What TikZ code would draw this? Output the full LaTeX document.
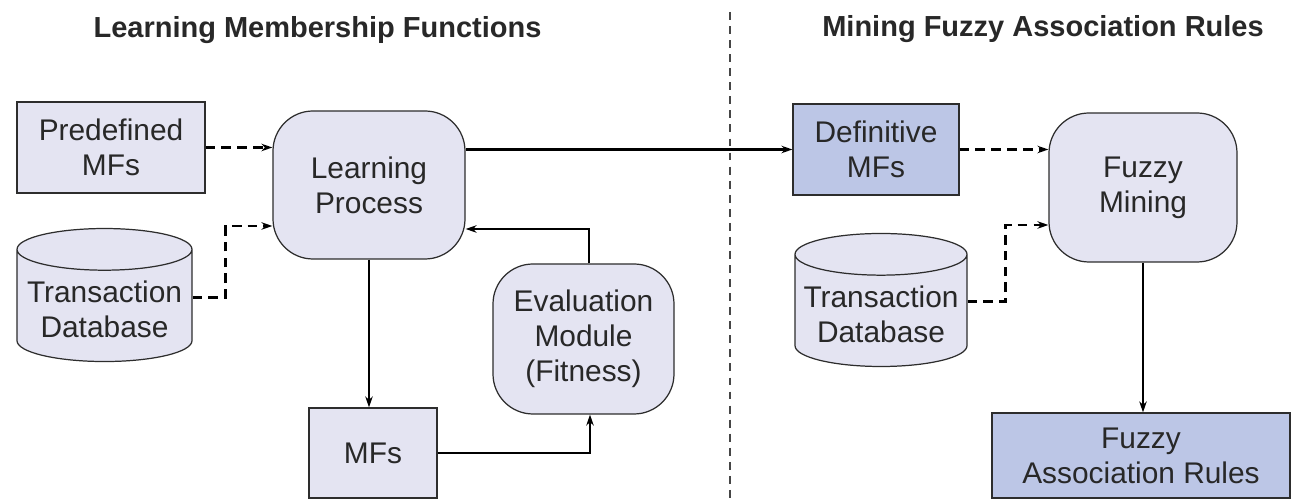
\documentclass[tikz,border=0pt]{standalone}
\usepackage{fontspec}
\setmainfont{Liberation Sans}
\usetikzlibrary{arrows.meta,shapes.geometric,positioning,calc}
\definecolor{BoxFill}    {RGB}{228,228,242}
\definecolor{BoxDark}    {RGB}{188,198,230}
\definecolor{EdgeGray}   {RGB}{ 45, 45, 45}
\definecolor{TextGray}   {RGB}{ 40, 40, 40}
\definecolor{SepGray}    {RGB}{ 70, 70, 70}
\tikzset{
  %% 方框：浅色 / 深色
  dbox/.style={rectangle,draw=EdgeGray,fill=BoxFill,line width=0.7pt,
               font=\fontsize{17}{20}\selectfont,text=TextGray,align=center},
  ddbox/.style={rectangle,draw=EdgeGray,fill=BoxDark,line width=0.7pt,
                font=\fontsize{17}{20}\selectfont,text=TextGray,align=center},
  %% 圆角处理框
  pbox/.style={rectangle,rounded corners=0.8cm,draw=EdgeGray,fill=BoxFill,
               line width=0.7pt,font=\fontsize{17}{20}\selectfont,
               text=TextGray,align=center},
  %% 数据库
  dbcyl/.style={cylinder,shape border rotate=90,aspect=0.25,draw=EdgeGray,
                fill=BoxFill,line width=0.7pt,
                font=\fontsize{17}{20}\selectfont,text=TextGray,align=center},
  %% 标题
  ttl/.style={font=\fontsize{16.5}{19}\selectfont\bfseries,text=TextGray,anchor=base},
  %% 箭头
  arr/.style={-{Stealth[length=0.22cm,width=0.15cm]},line width=1.5pt,color=black},
  darr/.style={-{Stealth[length=0.22cm,width=0.15cm]},line width=1.5pt,color=black,
               dash pattern=on 5.5pt off 3.5pt},
}
\begin{document}
\begin{tikzpicture}[x=1cm,y=1cm]
    \useasboundingbox (0,0) rectangle (25.88,-10);

    %% ── 标题与分隔线 ──────────────────────────────
    \node[ttl] (tl) at (6.35,-0.76) {Learning Membership Functions};
    \node[ttl] (tr) at (20.86,-0.74) {Mining Fuzzy Association Rules};
    \draw[SepGray,line width=0.8pt,dash pattern=on 4.5pt off 3.5pt]
      (14.6,-0.24) -- (14.6,-10);

    %% ── 左半：学习隶属函数 ─────────────────────────
    \node[dbox,minimum width=3.76cm,minimum height=1.82cm] (pmf) at (2.22,-2.95)
      {Predefined\\MFs};
    \node[pbox,minimum width=3.84cm,minimum height=2.96cm] (lp) at (7.38,-3.70)
      {Learning\\Process};
    \node[dbcyl,minimum width=3.5cm,minimum height=2.66cm] (db1) at (2.09,-6.19)
      {Transaction\\Database};
    \node[dbox,minimum width=2.56cm,minimum height=1.8cm] (mfs) at (7.46,-9.06)
      {MFs};
    \node[pbox,minimum width=3.62cm,minimum height=3.0cm] (eval) at (11.67,-6.78)
      {Evaluation\\Module\\(Fitness)};

    \draw[darr] (pmf.east) -- (pmf.east -| lp.west);
    \draw[darr] ([yshift=0.24cm]db1.east) -- ++(0.66,0) |- ([yshift=-0.82cm]lp.west);
    \draw[arr] (lp.south) -- (lp.south |- mfs.north);
    \draw[arr] (mfs.east) -| ([xshift=0.13cm]eval.south);
    \draw[arr] ([xshift=0.11cm]eval.north) |- ([yshift=-0.88cm]lp.east);

    %% ── 右半：挖掘模糊关联规则 ─────────────────────
    \node[ddbox,minimum width=3.32cm,minimum height=1.82cm] (dmf) at (17.52,-2.99)
      {Definitive\\MFs};
    \node[pbox,minimum width=3.76cm,minimum height=2.98cm] (fm) at (22.86,-3.75)
      {Fuzzy\\Mining};
    \node[dbcyl,minimum width=3.44cm,minimum height=2.66cm] (db2) at (17.62,-6.29)
      {Transaction\\Database};
    \node[ddbox,minimum width=5.96cm,minimum height=1.7cm] (far) at (22.82,-9.11)
      {Fuzzy\\Association Rules};

    \draw[arr] (lp.east |- dmf.west) -- (dmf.west);
    \draw[darr] (dmf.east) -- (dmf.east -| fm.west);
    \draw[darr] ([yshift=0.26cm]db2.east) -- ++(0.76,0) |- ([yshift=-0.75cm]fm.west);
    \draw[arr] (fm.south) -- (fm.south |- far.north);
  \end{tikzpicture}
\end{document}
